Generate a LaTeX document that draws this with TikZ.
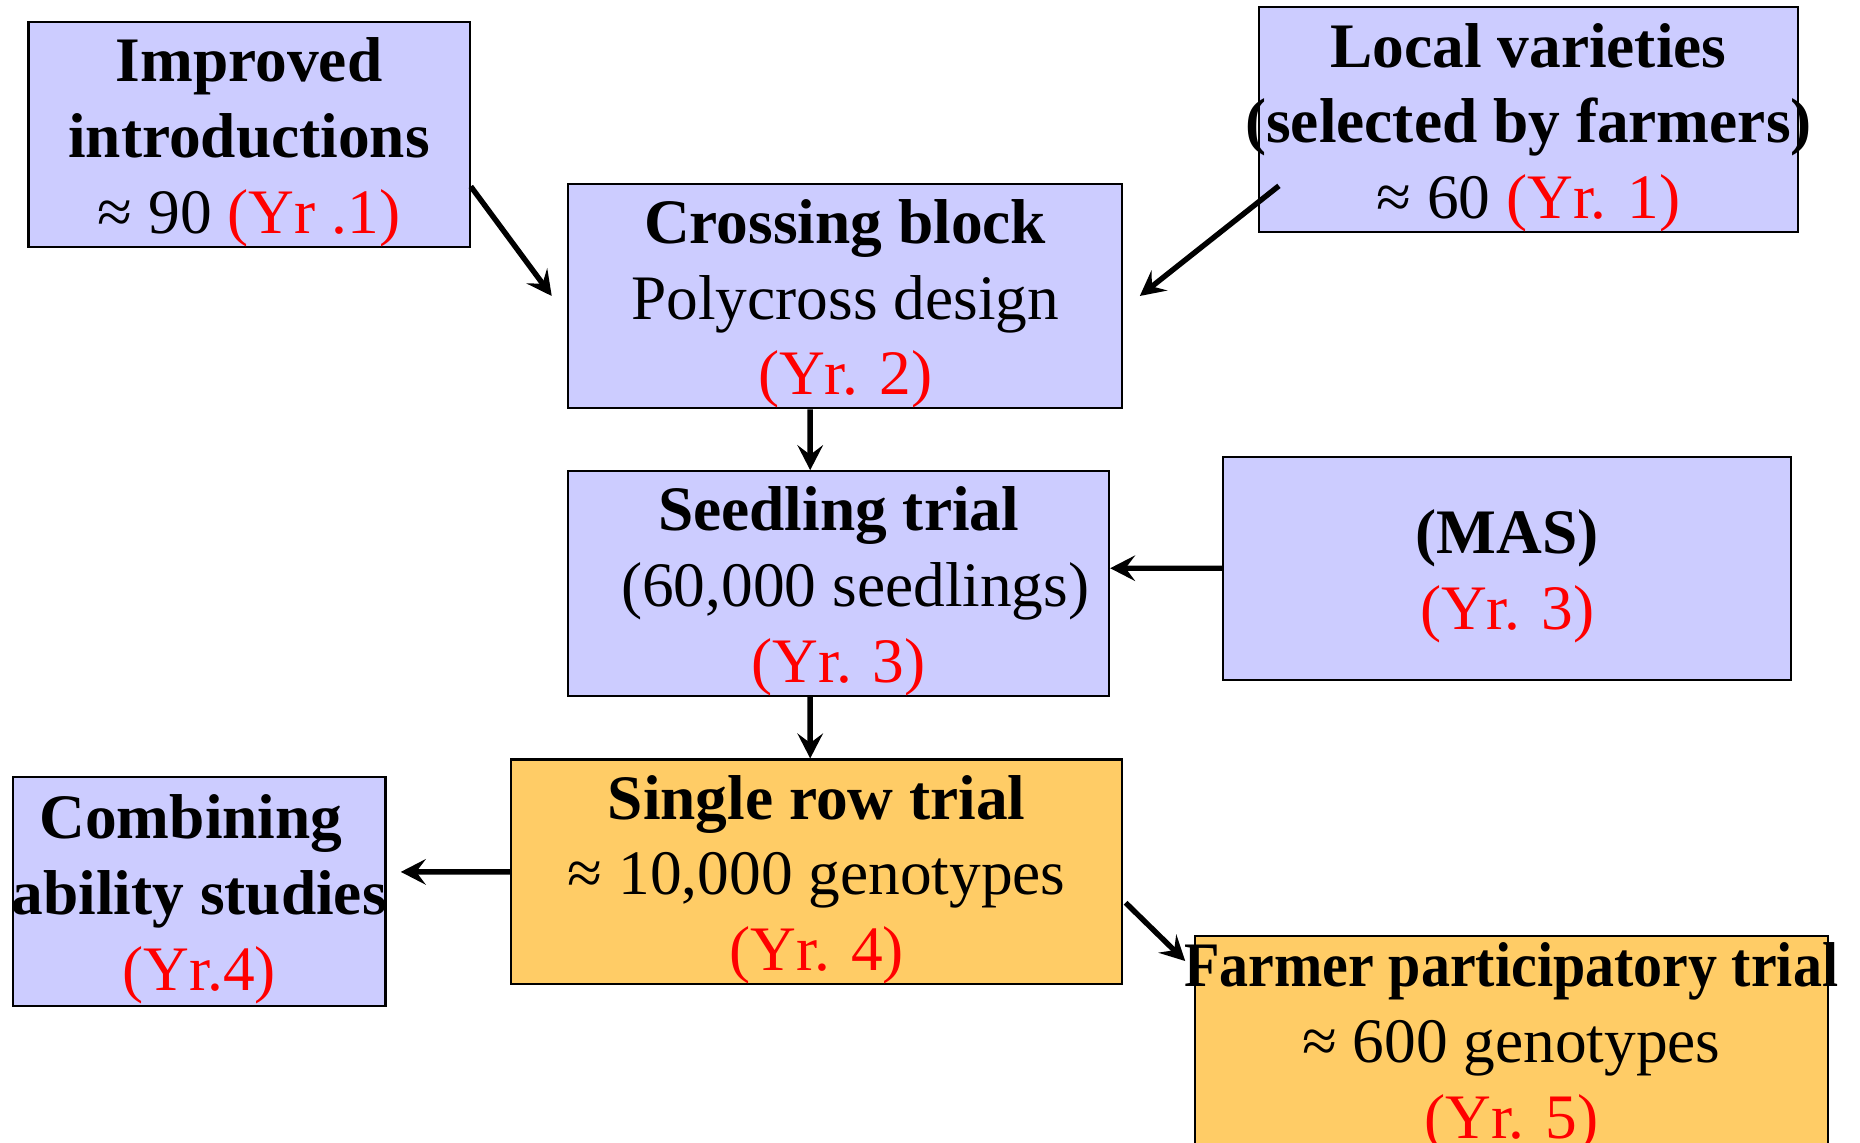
\documentclass[tikz,border=0pt]{standalone}
\usepackage{fontspec}
\usepackage{graphicx}
\setmainfont{Liberation Serif}
\usetikzlibrary{arrows.meta}
\definecolor{boxblue}{HTML}{CCCCFF}
\definecolor{boxorange}{HTML}{FFCC66}
\definecolor{yrred}{HTML}{FF0000}
\newcommand\tstrut{\rule{0pt}{14.3pt}}
\begin{document}
\begin{tikzpicture}[
  box/.style={draw=black, line width=0.5pt, inner sep=0pt, align=center,
    font=\fontsize{15.2}{18.2}\selectfont},
  bluebox/.style={box, fill=boxblue},
  orangebox/.style={box, fill=boxorange},
  arr/.style={-{Stealth[length=2.1mm,width=2.15mm,inset=0.8mm]}, line width=1.3pt, black}
]
\fill[white] (0,0) rectangle (15.68,-9.63);
\useasboundingbox (0,0) rectangle (15.68,-9.63);
\clip (0,0) rectangle (15.68,-9.63);

\node[bluebox, minimum width=3.72cm, minimum height=1.87cm] (imp) at (2.10,-1.135)
  {\tstrut{\bfseries Improved}\\{\bfseries introductions}\\≈ 90 \textcolor{yrred}{(Yr .1)}};
\node[bluebox, minimum width=4.55cm, minimum height=1.88cm] (loc) at (12.885,-1.01)
  {\tstrut{\bfseries Local varieties}\\\makebox[0pt]{\bfseries (selected by farmers)}\\≈ 60 \textcolor{yrred}{(Yr. 1)}};
\node[bluebox, minimum width=4.67cm, minimum height=1.89cm] (cross) at (7.125,-2.495)
  {\tstrut{\bfseries Crossing block}\\Polycross design\\\textcolor{yrred}{(Yr. 2)}};
\node[bluebox, minimum width=4.79cm, minimum height=1.88cm] (mas) at (12.705,-4.79)
  {\tstrut{\bfseries (MAS)}\\\textcolor{yrred}{(Yr. 3)}};
\node[bluebox, minimum width=4.56cm, minimum height=1.88cm] (seed) at (7.07,-4.92)
  {\tstrut{\bfseries Seedling trial}\\\hspace*{0.28cm}(60,000 seedlings)\\\textcolor{yrred}{(Yr. 3)}};
\node[bluebox, minimum width=3.14cm, minimum height=1.93cm] (comb) at (1.68,-7.515)
  {\tstrut{\bfseries Combining}\hspace*{0.14cm}\\\makebox[0pt]{\bfseries ability studies}\\\textcolor{yrred}{(Yr.4)}};
\node[orangebox, minimum width=5.15cm, minimum height=1.88cm] (single) at (6.885,-7.35)
  {\tstrut{\bfseries Single row trial}\\≈ 10,000 genotypes\\\textcolor{yrred}{(Yr. 4)}};
\node[orangebox, minimum width=5.34cm, minimum height=1.88cm] (farm) at (12.74,-8.83)
  {\makebox[0pt]{\scalebox{0.915}[1]{\bfseries Farmer participatory trial}}\\≈ 600 genotypes\\\textcolor{yrred}{(Yr. 5)}};

\draw[arr] ([yshift=5.2mm]imp.south east) -- ([xshift=-1.3mm]cross.west);
\draw[arr] ([xshift=1.8mm,yshift=4mm]loc.south west) -- ([xshift=1.4mm]cross.east);
\draw[arr] ([xshift=-2.95mm]cross.south) -- ([xshift=-2.4mm]seed.north);
\draw[arr] (mas.west) -- ([yshift=1.3mm]seed.east);
\draw[arr] ([xshift=-2.4mm]seed.south) -- ([xshift=-0.55mm]single.north);
\draw[arr] (single.west) -- ([xshift=1.2mm,yshift=1.65mm]comb.east);
\draw[arr] ([xshift=0.2mm,yshift=-2.6mm]single.east) -- ([xshift=-0.7mm,yshift=-2.2mm]farm.north west);
\end{tikzpicture}
\end{document}
